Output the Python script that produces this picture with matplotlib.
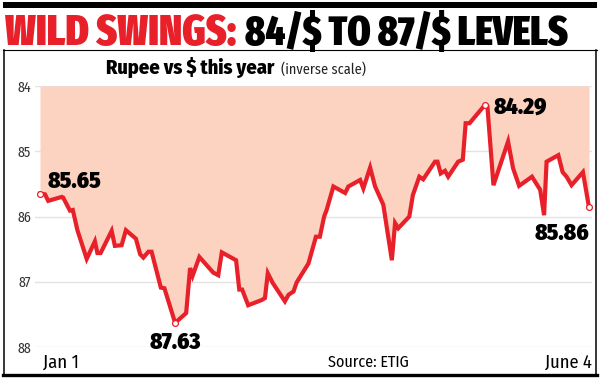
import matplotlib
matplotlib.use("Agg")
import matplotlib.pyplot as plt
from matplotlib.lines import Line2D
from matplotlib.patches import Rectangle

# ---- data (calendar day offset from Jan 1, rupee per dollar) ----
days = [0, 1.4, 2.3, 6.1, 6.5, 8.4, 9.2, 10.5, 13.1, 15.4, 16.1, 17.0, 20.1, 21.0,
        22.9, 24.1, 26.9, 28.1, 29.0, 30.4, 31.3, 33.9, 34.9, 37.9, 41.0, 42.1,
        42.8, 44.7, 48.6, 50.0, 51.0, 55.0, 55.9, 56.7, 58.4, 62.2, 63.1, 63.9,
        65.3, 68.7, 69.7, 71.1, 72.0, 75.3, 77.4, 78.5, 79.7, 80.4, 82.3, 85.6,
        86.5, 89.8, 90.7, 92.6, 94.0, 96.3, 98.7, 99.6, 100.5, 103.6, 104.6, 106.4,
        107.5, 110.8, 111.5, 112.4, 113.6, 114.5, 117.3, 118.6, 119.4, 120.5, 124.8,
        125.5, 127.2, 131.3, 132.7, 134.4, 138.0, 140.3, 141.4, 142.1, 145.4, 146.6,
        147.7, 149.1, 152.3, 154.0]
rates = [85.65, 85.66, 85.76, 85.70, 85.71, 85.91, 85.90, 86.21, 86.65, 86.38, 86.56,
         86.56, 86.22, 86.45, 86.44, 86.21, 86.34, 86.58, 86.63, 86.54, 86.54, 87.09,
         87.10, 87.63, 87.48, 86.79, 86.91, 86.62, 86.86, 86.90, 86.55, 86.67, 87.12,
         87.12, 87.36, 87.28, 87.25, 86.87, 87.02, 87.30, 87.20, 87.15, 87.01, 86.72,
         86.31, 86.31, 86.00, 85.90, 85.54, 85.64, 85.54, 85.44, 85.57, 85.25, 85.54,
         85.82, 86.67, 86.10, 86.18, 86.00, 85.67, 85.39, 85.43, 85.16, 85.16, 85.34,
         85.30, 85.39, 85.16, 85.13, 84.57, 84.57, 84.29, 84.31, 85.52, 84.85, 85.26,
         85.53, 85.39, 85.59, 85.98, 85.16, 85.06, 85.32, 85.39, 85.52, 85.32, 85.86]
y_ticks = [84, 85, 86, 87, 88]
start_label, end_label = "Jan 1", "June 4"

RED = "#e8202a"
FILL = "#fcd2c0"
TITLE_FONT = ["Fira Sans Extra Condensed", "DejaVu Sans"]
COND = ["Fira Sans Condensed", "DejaVu Sans"]
NUM = ["Fira Sans Condensed", "DejaVu Sans"]

W, H = 600, 378
fig = plt.figure(figsize=(6, 3.78), dpi=100)
renderer = fig.canvas.get_renderer()


def fx(px):
    return px / W


def fy(py):
    return 1 - py / H


def fit_text(x0, x1, base, s, ha="left", **kw):
    """Place text with baseline at pixel row `base`, sized to span x0..x1."""
    t = fig.text(fx(x0 if ha == "left" else x1), fy(base), s, fontsize=10,
                 va="baseline", ha=ha, parse_math=False, **kw)
    w = t.get_window_extent(renderer).width
    t.set_fontsize(10 * (x1 - x0) / w)
    return t


# top black bar and frame
fig.add_artist(Rectangle((fx(3), fy(7.5)), 594 / W, 5 / H,
                         transform=fig.transFigure, color="black", lw=0))
fig.add_artist(Line2D([fx(3), fx(597)], [fy(50), fy(50)],
                      transform=fig.transFigure, color="black", lw=0.8))
fig.add_artist(Line2D([fx(3.8), fx(3.8)], [fy(50), fy(376)],
                      transform=fig.transFigure, color="black", lw=1.1))
fig.add_artist(Line2D([fx(596.2), fx(596.2)], [fy(50), fy(376)],
                      transform=fig.transFigure, color="black", lw=1.1))
fig.add_artist(Line2D([fx(3), fx(597)], [fy(375), fy(375)],
                      transform=fig.transFigure, color="black", lw=2.4))

# title
fit_text(5, 235, 45, "WILD SWINGS:", color=RED, fontweight=900, family=TITLE_FONT)
fit_text(245, 567, 45, "84/$ TO 87/$ LEVELS", color="black", fontweight=900,
         family=TITLE_FONT)

# subtitle
fit_text(106, 275, 74, "Rupee vs $ this year", color="black", fontweight=800,
         family=COND)
fit_text(281, 365, 74, "(inverse scale)", color="#222222", family=COND)

# axes
ax = fig.add_axes([fx(35), fy(347), 557 / W, 261 / H])
px_per_day = 549 / 154
ax.set_xlim(-5 / px_per_day, 154 + 3 / px_per_day)
ax.set_ylim(88, 84)
for s in ax.spines.values():
    s.set_visible(False)
ax.set_xticks([])
ax.set_yticks(y_ticks)
ax.tick_params(axis="y", length=0, pad=3, labelsize=10, labelcolor="#333333")
for lab in ax.get_yticklabels():
    lab.set_family(COND)
for v in y_ticks:
    ax.axhline(v, color="#e2e2e2", lw=1.0, zorder=0)

ax.fill_between(days, rates, 84, color=FILL, lw=0, zorder=1)
ax.plot(days, rates, color=RED, lw=3.0, solid_joinstyle="miter", zorder=3)

# marked points
i_low = rates.index(max(rates))   # weakest rupee
i_high = rates.index(min(rates))  # strongest rupee
marks = [0, i_low, i_high, len(rates) - 1]
ax.plot([days[i] for i in marks], [rates[i] for i in marks], "o", ms=4.2,
        mfc="white", mec=RED, mew=0.9, zorder=4)

# size of the value labels: "85.65" spans about 54 px
probe = fig.text(0, 0, "85.65", fontsize=10, fontweight=900, family=NUM)
lbl_size = 10 * 54 / probe.get_window_extent(renderer).width
probe.remove()
lbl = dict(fontsize=lbl_size, fontweight=900, family=NUM, color="black",
           zorder=5, textcoords="offset pixels", va="baseline")
ax.annotate(f"{rates[0]:.2f}", (days[0], rates[0]), xytext=(8, 6), ha="left", **lbl)
ax.annotate(f"{rates[i_low]:.2f}", (days[i_low], rates[i_low]), xytext=(0, -26),
            ha="center", **lbl)
ax.annotate(f"{rates[i_high]:.2f}", (days[i_high], rates[i_high]), xytext=(9, -9),
            ha="left", **lbl)
ax.annotate(f"{rates[-1]:.2f}", (days[-1], rates[-1]), xytext=(0, -33),
            ha="right", **lbl)

# bottom labels
fit_text(43, 79, 368, start_label, color="black", family=COND)
fit_text(545, 592, 368, end_label, ha="right", color="black", family=COND)
fit_text(328, 409, 367, "Source: ETIG", color="black", family=COND)

fig.savefig("out.png", dpi=100, facecolor="white")
